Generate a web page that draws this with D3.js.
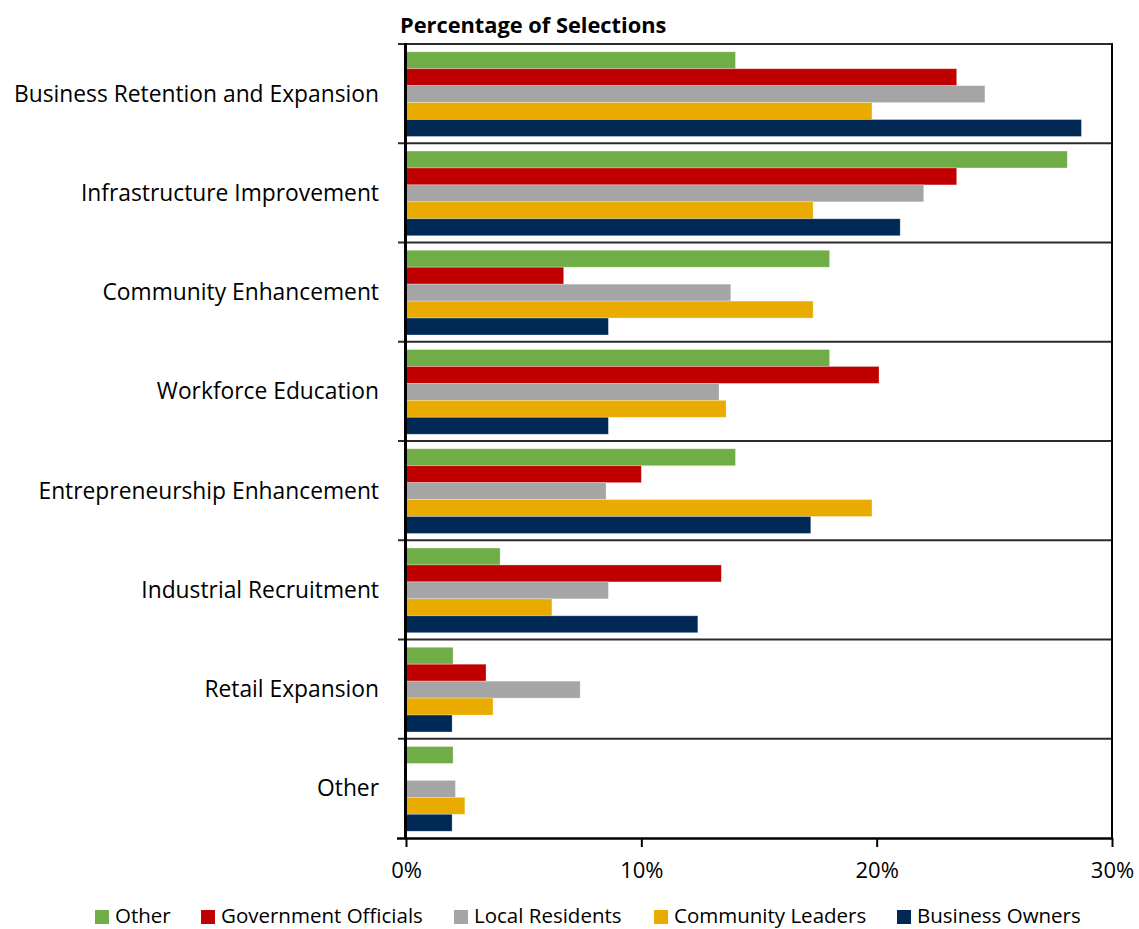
<!DOCTYPE html>
<html><head><meta charset="utf-8">
<script src="https://cdn.jsdelivr.net/npm/d3@7"></script>
<style>body{margin:0;background:#fff;} svg{display:block;} text{font-family:"Open Sans",sans-serif;fill:#000;}</style>
</head><body>
<svg id="c" width="1139" height="929"></svg>
<script>
const categories = ["Business Retention and Expansion","Infrastructure Improvement","Community Enhancement","Workforce Education","Entrepreneurship Enhancement","Industrial Recruitment","Retail Expansion","Other"];
const seriesNames = ["Other","Government Officials","Local Residents","Community Leaders","Business Owners"];
const seriesColors = ["#70AD47","#C00000","#A5A5A5","#EAAB00","#002855"];
const otherVals      = [14.0, 28.1, 18.0, 18.0, 14.0, 4.0, 2.0, 2.0];
const governmentVals = [23.4, 23.4, 6.7, 20.1, 10.0, 13.4, 3.4, 0];
const residentsVals  = [24.6, 22.0, 13.8, 13.3, 8.5, 8.6, 7.4, 2.1];
const leadersVals    = [19.8, 17.3, 17.3, 13.6, 19.8, 6.2, 3.7, 2.5];
const ownersVals     = [28.7, 21.0, 8.6, 8.6, 17.2, 12.4, 1.96, 1.96];
const xTicks = [0, 10, 20, 30];
const title = "Percentage of Selections";

const series = [otherVals, governmentVals, residentsVals, leadersVals, ownersVals];
const svg = d3.select("#c");
const L = 406, R = 1112, T = 44, B = 838;
const x = d3.scaleLinear().domain([0, 30]).range([L, R]);
const y = d3.scaleBand().domain(categories).range([T, B]).paddingInner(0).paddingOuter(0);
const inner = d3.scaleBand().domain(seriesNames).range([1, y.bandwidth()]).paddingInner(0).paddingOuter(0.4);

// bars
categories.forEach((c, ci) => {
  const g = svg.append("g");
  seriesNames.forEach((s, si) => {
    const v = series[si][ci];
    if (v <= 0) return;
    g.append("rect")
      .attr("x", x(0)).attr("y", y(c) + inner(s))
      .attr("width", x(v) - x(0)).attr("height", inner.bandwidth())
      .attr("fill", seriesColors[si])
      .attr("stroke", "rgba(255,255,255,0.35)").attr("stroke-width", 0.8);
  });
});

// horizontal band lines
const bounds = categories.map(c => y(c)).concat([B]);
svg.append("g").selectAll("line").data(bounds.slice(0, -1)).join("line")
  .attr("x1", L - 8).attr("x2", R).attr("y1", d => d).attr("y2", d => d)
  .attr("stroke", "#2b2b2b").attr("stroke-width", 2);
// right border
svg.append("line").attr("x1", R).attr("x2", R).attr("y1", T - 1).attr("y2", B).attr("stroke", "#000").attr("stroke-width", 2);

// x axis
const xAxis = d3.axisBottom(x).tickValues(xTicks).tickFormat(d => d + "%").tickSize(9).tickSizeOuter(0).tickPadding(15);
const xg = svg.append("g").attr("transform", `translate(0,${B})`).call(xAxis);
xg.select(".domain").attr("stroke", "#000").attr("stroke-width", 2.5).attr("d", `M${L - 9},0.5H${R}`);
xg.selectAll(".tick line").attr("stroke", "#000").attr("stroke-width", 2);
xg.selectAll(".tick text").attr("font-size", 22).style("font-family", "'Open Sans', sans-serif").attr("fill", "#000");

// y axis line
svg.append("line").attr("x1", L - 0.5).attr("x2", L - 0.5).attr("y1", T - 1).attr("y2", B + 1).attr("stroke", "#000").attr("stroke-width", 3);

// category labels
svg.append("g").selectAll("text").data(categories).join("text")
  .attr("x", 379).attr("y", d => y(d) + y.bandwidth() / 2)
  .attr("dy", "0.35em").attr("text-anchor", "end").attr("font-size", 22.8).text(d => d);

// title
svg.append("text").attr("x", 400).attr("y", 33).attr("font-size", 21.8).attr("font-weight", "bold").text(title);

// legend
const legX = [95, 201, 454, 654, 897];
const lg = svg.append("g");
seriesNames.forEach((s, i) => {
  lg.append("rect").attr("x", legX[i]).attr("y", 910).attr("width", 14).attr("height", 14).attr("fill", seriesColors[i]);
  lg.append("text").attr("x", legX[i] + 20).attr("y", 916).attr("dy", "0.35em").attr("font-size", 20.5).text(s);
});
</script>
</body></html>
